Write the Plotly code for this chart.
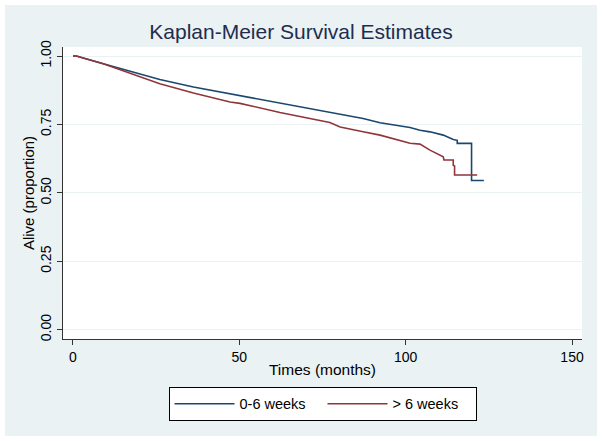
import plotly.graph_objects as go

# Kaplan-Meier survival estimates
t_early = [0, 1, 9.1, 16.1, 26.1, 36.2, 43.2, 47.2, 50.2, 62.2, 77.2, 87.2, 92.3,
           101.3, 104.3, 107.3, 111.3, 112.3, 114.3, 115.5, 115.5, 119.8, 119.8, 123.5]
s_early = [1.0, 1.0, 0.972, 0.947, 0.914, 0.887, 0.871, 0.863, 0.857, 0.827, 0.794, 0.772, 0.756,
           0.739, 0.729, 0.723, 0.711, 0.705, 0.695, 0.692, 0.681, 0.681, 0.545, 0.545]

t_late = [0, 1, 9.1, 16.1, 26.1, 36.2, 43.2, 47.2, 50.2, 62.2, 77.2, 80.3, 87.2, 92.3,
          101.3, 104.3, 107.3, 111.3, 111.5, 114.3, 114.3, 114.7, 114.7, 121.5]
s_late = [1.0, 1.0, 0.972, 0.942, 0.899, 0.865, 0.845, 0.832, 0.827, 0.794, 0.757, 0.741, 0.723, 0.711,
          0.681, 0.678, 0.656, 0.632, 0.620, 0.620, 0.601, 0.598, 0.565, 0.565]

series_names = ["0-6 weeks", "> 6 weeks"]
series_colors = ["#1a476f", "#90353b"]

x_ticks = [0, 50, 100, 150]
y_ticks = [0, 0.25, 0.5, 0.75, 1.0]
y_tick_text = ["0.00", "0.25", "0.50", "0.75", "1.00"]

BG = "#eaf2f3"

fig = go.Figure()
for t, s, name, col in [(t_early, s_early, series_names[0], series_colors[0]),
                        (t_late, s_late, series_names[1], series_colors[1])]:
    fig.add_trace(go.Scatter(x=t, y=s, mode="lines", name=name,
                             line=dict(color=col, width=1.6)))

fig.update_layout(
    width=602, height=441,
    margin=dict(l=63, r=20, t=47, b=102),
    paper_bgcolor=BG, plot_bgcolor="white",
    hovermode=False,
    font=dict(family="Liberation Sans, Arial, sans-serif", size=14, color="#000000"),
    title=dict(text="Kaplan-Meier Survival Estimates", x=0.5, xanchor="center",
               y=1 - 32 / 441, yanchor="middle",
               font=dict(size=21, color="#1e2d4f")),
    showlegend=True,
    legend=dict(orientation="h", x=0.5, xanchor="center", y=-0.164, yanchor="top",
                bgcolor="white", bordercolor="#000000", borderwidth=1,
                font=dict(size=14.5), entrywidth=78, itemwidth=60),
    xaxis=dict(range=[-3.0, 153.0], tickvals=x_ticks, showgrid=False, zeroline=False,
               automargin=False,
               showline=True, linecolor="#333333", linewidth=1,
               ticks="outside", ticklen=5, tickcolor="#333333",
               tickfont=dict(size=14),
               title=dict(text="Times (months)", standoff=0, font=dict(size=15.5))),
    yaxis=dict(range=[-0.034, 1.033], tickvals=y_ticks, ticktext=y_tick_text,
               automargin=False,
               tickangle=-90, showgrid=True, gridcolor=BG, gridwidth=1, zeroline=False,
               showline=True, linecolor="#333333", linewidth=1,
               ticks="outside", ticklen=5, tickcolor="#333333",
               tickfont=dict(size=14),
               title=dict(text="Alive (proportion)", standoff=0, font=dict(size=15))),
)

# thin white frame around the whole graph area
fig.add_shape(type="rect", xref="paper", yref="paper",
              x0=(0 - 63) / 519, x1=(602 - 63) / 519,
              y0=(339 - 441) / 292, y1=(339 - 0) / 292,
              line=dict(color="white", width=10), fillcolor="rgba(0,0,0,0)", layer="above")

fig.write_html("out.html", config={"displayModeBar": False, "staticPlot": True},
               post_script="document.body.style.margin='0';")
